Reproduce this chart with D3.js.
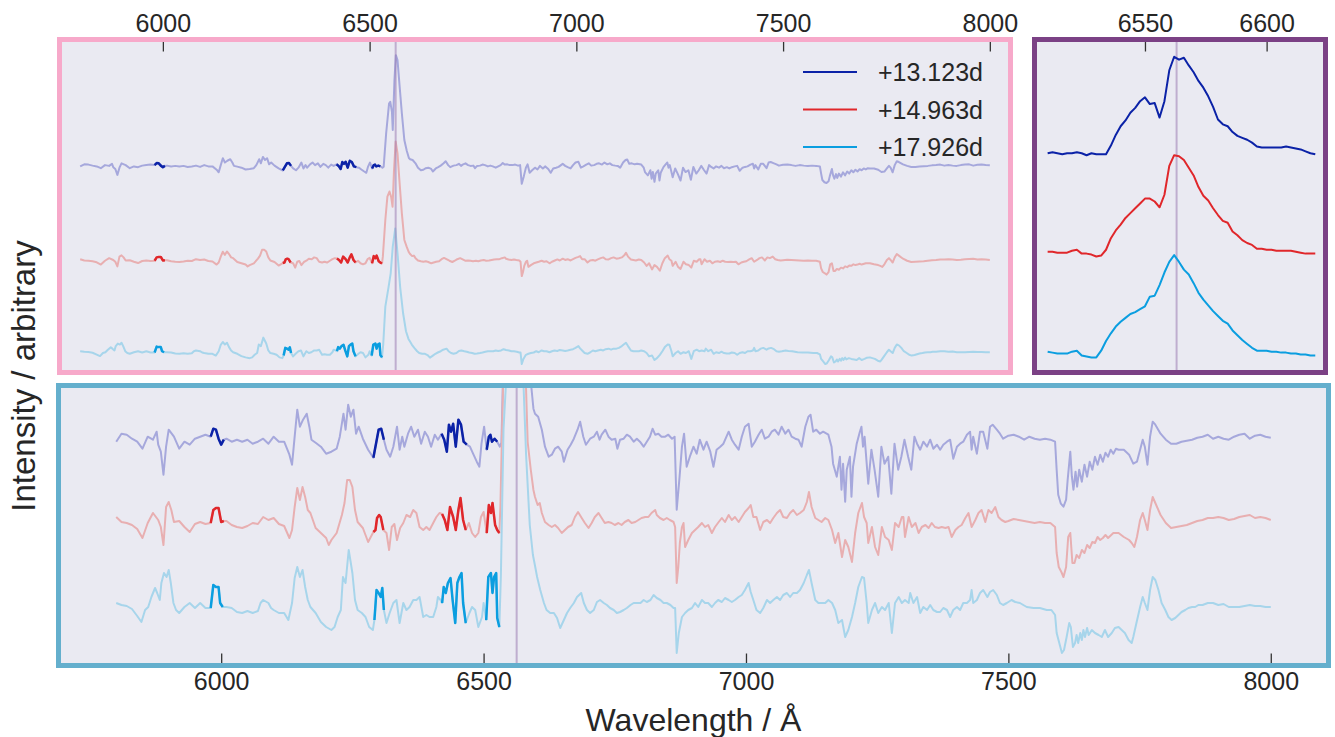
<!DOCTYPE html>
<html>
<head>
<meta charset="utf-8">
<script src="https://cdn.jsdelivr.net/npm/d3@7"></script>
<style>
	body { margin: 0; background: #fff; }
	svg { font-family: "Liberation Sans", Arial, sans-serif; display: block; }
</style>
</head>
<body>
<div id="wrapper"></div>
<script>
// epochs shown in the legend
const epochs = [ '+13.123d', '+14.963d', '+17.926d' ];
const lineColors = [ '#0b22a7', '#e0272b', '#0b9ee0' ];
const fadedColors = [ '#a6a8dc', '#e8afb1', '#a7d5eb' ];

// regions drawn in full colour on the wide panels
const highlightRanges = [ [ 5980, 6005 ], [ 6290, 6310 ], [ 6420, 6468 ], [ 6505, 6530 ] ];
const hAlpha = 6563;
const mainTicks = [ 6000, 6500, 7000, 7500, 8000 ];
const insetTicks = [ 6550, 6600 ];

// [wavelength, flux] (flux relative to continuum)
const spec13 = [
	[5800,-0.5],[5810,0.3],[5820,0.2],[5830,-0.2],[5840,-0.5],[5850,-1.2],[5860,0],[5870,-0.3],[5877,0.5],[5880,-0.8],
	[5885,-1.5],[5890,-3.8],[5895,-1.0],[5900,0.7],[5910,0],[5920,-1.2],[5930,-0.5],[5940,-0.8],[5950,-0.2],[5960,0],
	[5970,0.2],[5980,0],[5985,0.8],[5990,0.7],[5995,-0.2],[6000,-0.8],[6005,-0.3],[6010,-0.2],[6020,-0.5],[6030,-0.3],
	[6040,-0.5],[6050,-0.3],[6060,-0.7],[6070,-0.5],[6080,-0.2],[6090,-0.7],[6100,0],[6110,-0.5],[6120,-0.5],[6130,-1.8],
	[6135,-2.8],[6140,0],[6145,2.7],[6150,1.0],[6156,1.7],[6163,2.3],[6168,1.0],[6172,-0.3],[6180,-0.6],[6190,-1.0],
	[6200,-1.7],[6210,-1.5],[6220,-1.2],[6226,0],[6233,2.3],[6237,0.7],[6242,3.2],[6247,2.0],[6252,2.7],[6257,0.3],
	[6262,1.0],[6270,-0.2],[6280,-1.3],[6290,-2.1],[6295,-0.7],[6300,0.7],[6305,0.8],[6310,-0.3],[6315,-1.3],[6322,-2.0],
	[6328,-1.0],[6335,1.0],[6340,-1.3],[6345,0],[6349,-1.0],[6356,0.3],[6362,1.0],[6368,0],[6375,0.7],[6381,-0.7],
	[6388,0.5],[6394,0],[6400,-1.0],[6407,0.2],[6413,-0.3],[6420,0.3],[6425,-0.3],[6430,-1.5],[6434,1.2],[6438,0.5],
	[6442,1.3],[6447,-1.0],[6452,1.7],[6457,1.2],[6462,-0.5],[6468,-0.8],[6474,-1.0],[6480,-1.7],[6487,-2.5],[6492,-3.0],
	[6496,-0.7],[6501,1.0],[6506,-1.3],[6510,0],[6513,0.2],[6516,-0.5],[6521,-0.2],[6526,-0.5],[6531,-1.0],[6534,-0.6],
	[6540,12.4],[6547,24],[6550,24.7],[6554,20.8],[6556,13.7],[6560,33],[6563.5,42.9],[6567.5,41],[6572,31.9],[6578,20.2],
	[6584,9.8],[6590,5.5],[6595,2.8],[6598,2.3],[6604,2.0],[6611,0.7],[6617,-1.0],[6624,-2.0],[6630,-1.8],[6636,-1.2],
	[6642,-1.0],[6649,-1.5],[6653,-2.5],[6660,-1.3],[6666,-0.8],[6672,-0.2],[6679,0.7],[6684,1.5],[6690,0],[6695,-0.8],
	[6703,-0.2],[6710,0],[6716,0.5],[6721,-0.3],[6725,0.2],[6732,0.7],[6738,0],[6744,-0.3],[6751,-0.2],[6755,-1.2],
	[6760,-0.3],[6767,-0.2],[6773,0.2],[6779,0],[6786,-0.5],[6792,-0.2],[6798,-0.5],[6805,-1.0],[6811,-0.5],[6817,0],
	[6822,0.8],[6827,0.2],[6833,0.3],[6839,0],[6846,0],[6852,0.2],[6859,-0.2],[6864,0],[6868,-7.3],[6873,-4.3],
	[6878,-1.0],[6882,0.3],[6887,-3.0],[6893,-2.0],[6900,-1.0],[6906,-1.7],[6912,-0.3],[6919,-1.3],[6925,-0.5],[6932,-1.5],
	[6938,-3.0],[6944,-1.3],[6951,-1.0],[6957,-0.7],[6967,0.5],[6973,-0.3],[6979,-0.8],[6986,-1.3],[6992,0],[6998,1.0],
	[7005,1.3],[7011,-1.0],[7017,-0.5],[7024,0.2],[7030,0.7],[7036,-0.2],[7043,0],[7049,0.5],[7055,0.7],[7062,0.2],
	[7068,1.0],[7075,0.3],[7081,0.7],[7087,0],[7094,-0.2],[7100,-0.3],[7106,-1.0],[7113,1.0],[7119,2.0],[7123,2.2],
	[7128,0.5],[7134,0.7],[7141,0.3],[7147,0.5],[7157,0.2],[7163,-1.0],[7166,-2.7],[7173,-4.0],[7179,-2.0],[7182,-5.3],
	[7185,-2.7],[7189,-6.5],[7192,-3.3],[7198,-2.0],[7201,-6.0],[7204,-3.0],[7211,-0.7],[7217,0.5],[7220,1.0],[7223,-1.0],
	[7226,0],[7233,-4.7],[7239,-1.3],[7245,-3.3],[7252,-6.0],[7258,-1.0],[7264,-2.7],[7271,-2.0],[7277,-5.7],[7283,-0.7],
	[7290,-3.3],[7296,-2.0],[7302,-0.3],[7309,-2.0],[7315,-3.3],[7321,0],[7326,-0.7],[7332,-1.3],[7338,-0.5],[7345,-1.0],
	[7351,-0.3],[7357,-1.2],[7364,-0.8],[7370,-1.3],[7376,-0.8],[7383,-0.5],[7389,-0.3],[7395,-2.2],[7402,-1.0],[7408,-0.7],
	[7414,-0.5],[7421,0.2],[7427,0.5],[7430,-1.3],[7433,0],[7440,-1.7],[7446,0.5],[7452,0.5],[7460,-1.2],[7465,1.0],
	[7470,1.2],[7478,0.7],[7484,0.3],[7490,-0.2],[7500,0.1],[7510,0.2],[7520,0],[7530,-0.3],[7540,0],[7550,-0.2],
	[7560,-0.3],[7570,-0.2],[7580,-0.3],[7589,-0.5],[7592,-3.3],[7595,-5.8],[7600,-6.7],[7605,-7.0],[7610,-6.3],[7613,-4.3],
	[7618,-1.5],[7621,-4.0],[7624,-5.3],[7628,-3.5],[7631,-5.0],[7635,-3.3],[7640,-4.5],[7645,-2.8],[7650,-4.0],[7655,-2.5],
	[7660,-3.3],[7665,-2.0],[7670,-2.8],[7675,-1.8],[7680,-2.5],[7685,-1.6],[7690,-2.0],[7695,-1.3],[7700,-1.7],[7705,-1.2],
	[7710,-1.3],[7720,-1.3],[7730,-1.8],[7738,-2.7],[7745,-2.5],[7751,-1.3],[7756,-0.3],[7760,-1.0],[7765,-2.8],[7770,0],
	[7775,1.5],[7780,1.2],[7790,0.3],[7800,-0.3],[7810,-0.7],[7820,-0.7],[7830,-0.5],[7840,-0.4],[7850,-0.3],[7860,-0.1],
	[7870,0],[7880,0.2],[7890,-0.2],[7900,0],[7910,-0.2],[7920,-0.3],[7930,0],[7940,0.2],[7950,0.3],[7960,-0.2],
	[7970,0.1],[7980,0.2],[7990,0],[8000,-0.1]
];

const spec14 = [
	[5800,0.3],[5810,-0.2],[5820,-0.3],[5830,-0.5],[5840,-0.9],[5850,-1.8],[5860,-0.3],[5870,0.7],[5880,0],[5885,-0.7],
	[5890,-2.5],[5895,1.3],[5900,1.8],[5905,1.0],[5910,-0.2],[5920,-0.1],[5930,-0.7],[5940,-1.2],[5950,-0.4],[5960,-0.2],
	[5970,-0.4],[5980,-0.3],[5985,1.0],[5990,1.2],[5995,1.2],[6000,-0.2],[6005,-0.1],[6010,-0.1],[6020,-0.5],[6030,-0.7],
	[6040,-0.8],[6050,-0.6],[6060,-0.3],[6070,-0.4],[6080,0.3],[6090,0],[6100,0.2],[6110,-0.4],[6120,-0.6],[6130,-1.8],
	[6135,-1.0],[6140,1.3],[6145,3.2],[6150,2.0],[6155,3.3],[6160,2.3],[6165,1.0],[6170,0.7],[6180,-0.8],[6190,-1.3],
	[6200,-1.8],[6205,-2.5],[6210,-2.0],[6220,-1.3],[6230,0.5],[6235,1.7],[6240,4.0],[6245,4.0],[6250,3.3],[6255,1.0],
	[6260,-0.2],[6270,-0.8],[6280,-2.2],[6290,-1.2],[6294,-1.0],[6297,0.2],[6301,0.5],[6304,0.3],[6309,-1.0],[6315,-1.3],
	[6320,-3.0],[6325,-0.7],[6330,-0.4],[6335,-2.0],[6341,-0.8],[6347,-0.3],[6353,0.5],[6360,0.3],[6366,1.0],[6372,0.7],
	[6378,-0.7],[6385,-1.0],[6391,-0.7],[6397,-1.0],[6404,-0.3],[6410,0.3],[6416,0.7],[6421,0.6],[6426,0],[6431,-1.0],
	[6436,1.3],[6442,0.3],[6447,-1.0],[6452,1.0],[6456,2.2],[6461,0],[6466,-1.0],[6472,-0.3],[6478,-1.3],[6484,-1.7],
	[6490,-1.3],[6495,0.3],[6500,0.8],[6506,-1.3],[6510,1.5],[6514,0.7],[6517,1.7],[6522,-0.5],[6526,-1.0],[6530,-1.3],
	[6532,1.3],[6538,15.6],[6543,24.7],[6548,26.7],[6552,24.7],[6555.5,20.8],[6559,35],[6563,46.2],[6567.5,41.6],[6572,31.2],
	[6578,18.2],[6584,7.8],[6590,5.0],[6595,3.0],[6598,2.3],[6603,1.5],[6607,1.7],[6611,0.7],[6617,-0.2],[6624,-0.5],
	[6630,-0.7],[6636,-0.5],[6642,-0.8],[6649,-1.3],[6655,-1.0],[6661,-0.7],[6668,-0.5],[6674,0.3],[6680,0.8],[6687,0.2],
	[6693,-0.3],[6700,-0.8],[6706,-0.3],[6712,0.3],[6719,0.7],[6725,0.2],[6731,-0.3],[6738,-0.2],[6744,-0.3],[6750,-0.5],
	[6757,-0.3],[6763,-0.5],[6769,-0.2],[6776,0],[6782,-0.3],[6789,-0.2],[6795,0],[6801,0.2],[6808,0.3],[6814,0.3],
	[6820,0.7],[6827,1.0],[6830,0.5],[6836,0.2],[6843,0],[6849,0.2],[6855,0],[6862,-0.2],[6865,-0.7],[6868,-6.3],
	[6871,-4.7],[6874,-2.3],[6878,-0.7],[6881,-0.3],[6884,-2.7],[6890,-2.0],[6897,-1.3],[6903,-1.0],[6909,-0.7],[6916,-0.3],
	[6922,-0.7],[6928,-0.5],[6935,-1.3],[6941,-0.7],[6948,-0.2],[6954,0.2],[6960,-0.2],[6967,0.5],[6973,0],[6979,0.3],
	[6986,-0.2],[6992,0.3],[6998,0.8],[7005,1.2],[7009,1.5],[7014,0.3],[7020,0.3],[7027,-1.0],[7033,-0.2],[7040,0],
	[7046,-0.3],[7052,0.2],[7059,0.7],[7065,1.0],[7071,0.3],[7078,0.2],[7084,0.7],[7090,1.0],[7097,0.5],[7103,0.7],
	[7110,1.0],[7116,1.8],[7120,2.8],[7125,1.3],[7132,0.2],[7138,0],[7144,-0.2],[7151,0.2],[7157,0],[7164,-1.0],
	[7170,-2.3],[7176,-1.3],[7183,-3.7],[7189,-2.0],[7195,-2.7],[7202,-4.2],[7208,-1.3],[7214,0.7],[7221,1.7],[7225,0.3],
	[7230,-0.3],[7233,-2.3],[7240,-0.7],[7246,-2.7],[7252,-3.5],[7259,-0.7],[7265,-1.7],[7272,-2.0],[7278,-3.0],[7284,-0.3],
	[7291,-0.7],[7297,0.3],[7300,0.3],[7303,-1.7],[7310,0.3],[7316,-0.7],[7323,-0.3],[7329,-1.3],[7335,-0.7],[7342,-0.5],
	[7348,-0.8],[7354,-0.3],[7360,-0.7],[7367,-0.8],[7373,-0.7],[7380,-0.8],[7386,-0.7],[7392,-1.7],[7399,-1.0],[7405,-0.7],
	[7411,-0.5],[7418,0.2],[7424,0.7],[7430,-0.7],[7437,0],[7443,0.7],[7449,1.0],[7456,-0.2],[7462,1.0],[7468,0.7],
	[7475,1.3],[7481,0.3],[7487,0],[7494,-0.2],[7500,-0.1],[7510,0.1],[7520,0],[7530,-0.1],[7540,-0.2],[7550,-0.3],
	[7560,-0.2],[7570,-0.3],[7580,-0.3],[7589,-0.7],[7592,-3.3],[7596,-4.7],[7601,-5.2],[7605,-5.7],[7610,-4.7],[7614,-1.7],
	[7618,-1.3],[7622,-4.3],[7626,-4.3],[7630,-3.5],[7635,-3.8],[7640,-3.0],[7645,-3.3],[7650,-2.5],[7655,-2.8],[7660,-2.2],
	[7665,-2.3],[7670,-1.7],[7675,-2.0],[7680,-1.8],[7685,-1.5],[7690,-1.8],[7700,-1.3],[7710,-1.3],[7720,-1.7],[7730,-2.0],
	[7735,-2.3],[7740,-2.7],[7745,-1.7],[7751,0],[7756,0.7],[7760,0],[7765,-1.0],[7770,1.0],[7775,2.3],[7780,1.7],
	[7790,0.5],[7800,-0.3],[7810,-0.8],[7820,-0.7],[7830,-0.6],[7840,-0.5],[7850,-0.3],[7860,-0.1],[7870,0],[7880,0.2],
	[7890,0.2],[7900,0.3],[7910,0.2],[7920,0],[7930,0.1],[7940,0.3],[7950,0.4],[7960,0.5],[7970,0.2],[7980,0.3],
	[7990,0.2],[8000,0]
];

const spec17 = [
	[5800,0.2],[5810,0],[5820,-0.1],[5830,-0.4],[5840,-1.1],[5848,-1.7],[5855,-0.5],[5861,-0.2],[5867,0.8],[5874,1.7],
	[5878,1.2],[5883,0.5],[5886,2.2],[5891,3.2],[5896,2.8],[5900,3.5],[5904,2.2],[5909,0.2],[5914,-0.5],[5920,-0.8],
	[5930,-0.2],[5940,0.2],[5950,-0.3],[5960,0.2],[5970,-0.3],[5980,-0.3],[5985,2.0],[5990,1.8],[5995,1.8],[5998,0.2],
	[6003,-0.2],[6010,-0.2],[6020,-0.3],[6030,-0.7],[6040,-0.8],[6050,-0.6],[6060,-0.8],[6070,-0.6],[6075,0.2],[6080,0.5],
	[6090,0.2],[6095,-0.3],[6100,-0.5],[6110,-0.8],[6120,-0.8],[6128,-1.5],[6135,0.2],[6140,2.7],[6145,3.8],[6150,2.8],
	[6155,3.5],[6160,1.8],[6165,0.5],[6170,-0.2],[6180,-0.8],[6190,-1.7],[6200,-2.2],[6210,-2.5],[6216,-2.2],[6222,-1.2],
	[6228,-0.5],[6232,2.8],[6237,2.2],[6243,5.5],[6247,4.2],[6250,3.2],[6255,0.5],[6260,-0.5],[6268,-0.8],[6275,-1.2],
	[6282,-2.2],[6289,-2.5],[6292,-1.5],[6296,1.5],[6300,1.2],[6304,0.8],[6307,1.7],[6310,-0.5],[6315,-1.8],[6321,-0.8],
	[6328,0.2],[6334,0.5],[6340,-1.8],[6347,0.2],[6353,-0.5],[6359,-0.2],[6366,0.5],[6372,0.5],[6378,0.8],[6385,-1.2],
	[6391,-1.0],[6397,-1.2],[6404,-1.2],[6410,-0.2],[6413,0.8],[6418,0.5],[6421,0.2],[6424,1.8],[6428,1.2],[6432,2.2],
	[6437,2.7],[6441,0.5],[6446,-1.8],[6450,2.2],[6454,2.8],[6458,3.2],[6461,0.2],[6466,-1.8],[6473,-0.8],[6478,-0.2],
	[6484,-0.5],[6490,-2.2],[6497,-1.2],[6500,0.2],[6505,-1.5],[6509,2.8],[6514,3.2],[6517,1.2],[6520,2.8],[6524,3.2],
	[6526,-1.3],[6530,-2.2],[6533,3.0],[6538,17.6],[6546,25.4],[6551,30.6],[6556,41],[6562,48.1],[6567.5,38.4],[6574,25.0],
	[6581,15.0],[6588,8.0],[6594,5.0],[6597,4.2],[6602,2.8],[6608,1.5],[6615,0.2],[6620,-0.5],[6627,-0.8],[6634,-0.8],
	[6640,-1.3],[6646,-2.3],[6653,-1.5],[6659,-0.8],[6665,-0.3],[6672,0.2],[6678,0.8],[6686,1.2],[6691,0.2],[6697,-0.5],
	[6703,-0.8],[6710,-0.5],[6716,0.3],[6722,0.5],[6729,0.2],[6735,0],[6741,-0.3],[6748,-0.5],[6754,-0.8],[6760,-0.7],
	[6767,-0.5],[6773,-0.3],[6780,0],[6786,0.2],[6792,0.2],[6799,0.2],[6805,0.5],[6811,0.3],[6818,0.5],[6824,1.0],
	[6830,0.7],[6837,0.5],[6843,0.2],[6849,0.2],[6856,0],[6862,-0.3],[6865,-0.3],[6868,-4.8],[6872,-2.8],[6878,-1.2],
	[6884,-0.8],[6890,-0.5],[6897,-0.3],[6903,0.2],[6909,-0.2],[6916,0.5],[6922,0.2],[6928,0.2],[6935,-0.2],[6941,0.2],
	[6947,0.5],[6954,0.3],[6960,0.7],[6967,0.5],[6973,0.3],[6979,0.5],[6986,0.8],[6992,1.0],[6998,1.5],[7005,2.2],
	[7009,1.3],[7014,0.5],[7020,-0.5],[7027,-0.8],[7033,-0.3],[7040,0.5],[7046,0.2],[7052,0.5],[7059,0.8],[7065,0.5],
	[7071,1.0],[7078,1.2],[7084,0.8],[7090,1.2],[7097,1.2],[7103,1.5],[7110,2.2],[7116,3.0],[7120,3.5],[7125,2.2],
	[7132,0.5],[7138,0.2],[7144,0.2],[7151,0.2],[7157,0.5],[7164,0.2],[7170,-0.5],[7176,-1.8],[7183,-1.5],[7189,-3.2],
	[7195,-2.5],[7202,-1.2],[7208,0.2],[7214,1.8],[7221,2.8],[7225,2.7],[7230,0.2],[7233,-1.8],[7240,-0.5],[7246,0.2],
	[7252,-0.8],[7259,-0.2],[7265,-0.5],[7272,0.2],[7278,-2.8],[7284,0.2],[7291,0.8],[7297,0.2],[7303,0.5],[7310,0.2],
	[7313,1.2],[7319,0.2],[7326,0.8],[7332,-0.8],[7338,-0.2],[7345,-0.5],[7351,0],[7357,-0.5],[7364,-0.7],[7370,-0.7],
	[7376,-0.3],[7383,-0.5],[7389,-1.2],[7395,-0.5],[7402,-0.2],[7408,-0.5],[7414,0.2],[7421,0.2],[7427,0.5],[7430,1.5],
	[7433,0.2],[7440,0.5],[7446,1.2],[7452,1.5],[7460,0.8],[7465,1.3],[7471,1.5],[7478,1.0],[7484,0.2],[7490,0],
	[7497,0.2],[7506,0.5],[7513,0.3],[7522,0.2],[7535,-0.2],[7548,-0.3],[7560,-0.3],[7573,-0.5],[7582,-0.5],[7589,-1.0],
	[7592,-2.8],[7597,-3.8],[7602,-4.8],[7606,-4.5],[7611,-3.2],[7616,-1.8],[7619,-2.2],[7623,-4.2],[7627,-3.8],[7630,-3.0],
	[7633,-3.8],[7637,-2.8],[7640,-3.5],[7643,-2.5],[7646,-3.2],[7650,-2.3],[7653,-3.0],[7659,-2.5],[7665,-2.8],[7672,-3.0],
	[7678,-3.2],[7684,-2.5],[7690,-3.2],[7697,-2.8],[7703,-2.3],[7710,-2.2],[7716,-2.5],[7722,-2.8],[7729,-3.5],[7735,-3.8],
	[7738,-3.2],[7744,-1.8],[7751,-0.2],[7756,0.8],[7760,0.2],[7765,-0.5],[7770,1.5],[7775,2.8],[7780,2.5],[7786,1.5],
	[7792,0.2],[7799,-0.5],[7805,-1.2],[7811,-1.5],[7818,-1.3],[7824,-1.0],[7830,-0.7],[7837,-0.5],[7843,-0.3],[7850,-0.2],
	[7856,-0.2],[7862,0],[7870,0],[7880,0.2],[7890,0.2],[7900,0],[7910,0.1],[7920,-0.2],[7930,-0.2],[7940,-0.2],
	[7950,-0.1],[7960,0],[7970,-0.1],[7980,-0.1],[7990,-0.2],[8000,-0.2]
];

// H-alpha close-up, each profile normalised to its own peak
const insetWave = [
	6510, 6512, 6514, 6516, 6518, 6520, 6522, 6524, 6526, 6528, 6530, 6532, 6534, 6536, 6538, 6540, 6542, 6544, 6546, 6548,
	6550, 6552, 6554, 6556, 6558, 6560, 6562, 6564, 6566, 6568, 6570, 6572, 6574, 6576, 6578, 6580, 6582, 6584, 6586, 6588,
	6590, 6592, 6594, 6596, 6598, 6600, 6602, 6604, 6606, 6608, 6610, 6612, 6614, 6616, 6618, 6620
];
const inset13 = [
	0, 0.01, 0, -0.01, 0, 0, 0.01, 0, -0.02, 0, -0.01, -0.01, -0.01, 0.08, 0.19, 0.28, 0.34, 0.42, 0.47, 0.54,
	0.58, 0.51, 0.52, 0.37, 0.54, 0.86, 1.0, 0.97, 0.99, 0.91, 0.84, 0.75, 0.68, 0.59, 0.48, 0.35, 0.3, 0.28, 0.22, 0.18,
	0.16, 0.14, 0.11, 0.07, 0.06, 0.06, 0.06, 0.06, 0.06, 0.07, 0.06, 0.05, 0.04, 0.02, 0, -0.01
];
const inset14 = [
	0, 0, -0.01, -0.01, -0.01, 0.01, 0.02, -0.02, -0.02, -0.03, -0.05, -0.04, 0.02, 0.14, 0.22, 0.28, 0.35, 0.4, 0.45, 0.5,
	0.55, 0.55, 0.52, 0.46, 0.59, 0.89, 1.0, 0.99, 0.95, 0.87, 0.79, 0.67, 0.58, 0.53, 0.45, 0.38, 0.32, 0.3, 0.21, 0.17,
	0.12, 0.09, 0.07, 0.03, 0.03, 0.02, 0.02, 0.01, 0.01, 0.01, 0.01, 0, -0.01, -0.02, -0.02, -0.02
];
const inset17 = [
	0, -0.01, -0.02, -0.02, -0.02, 0, 0.01, -0.04, -0.05, -0.06, -0.06, 0.01, 0.11, 0.19, 0.26, 0.31, 0.35, 0.39, 0.41, 0.44,
	0.47, 0.57, 0.58, 0.69, 0.82, 0.93, 1.0, 0.93, 0.85, 0.8, 0.71, 0.61, 0.54, 0.48, 0.42, 0.37, 0.32, 0.29, 0.22, 0.17,
	0.12, 0.08, 0.04, 0.01, 0.01, 0.01, 0, 0, -0.01, -0.01, -0.02, -0.02, -0.03, -0.03, -0.04, -0.04
];

const spectra = [ spec13, spec14, spec17 ];
const insets = [ inset13, inset14, inset17 ];

const panels = {
	top: { x0: 59.5, x1: 1010.5, y0: 39.5, y1: 372.5, xlim: [ 5750, 8050 ], ylim: [ -8.1, 121.8 ], offsets: [ 72.8, 35.8, 0 ], border: '#f7a9ca' },
	inset: { x0: 1034.5, x1: 1325.5, y0: 39.5, y1: 372.5, xlim: [ 6504.6, 6624.2 ], ylim: [ -0.216, 3.235 ], offsets: [ 2.056, 1.036, 0 ], border: '#7b4185' },
	bottom: { x0: 58.5, x1: 1328.5, y0: 385.5, y1: 665.5, xlim: [ 5690, 8110 ], ylim: [ -6.05, 21.95 ], offsets: [ 16.83, 8.5, 0 ], border: '#64afcd' }
};

const svg = d3.select('#wrapper').append('svg').attr('width', 1335).attr('height', 737);
const defs = svg.append('defs');

function makePanel(name) {
	const p = panels[name];
	const x = d3.scaleLinear().domain(p.xlim).range([ p.x0, p.x1 ]);
	const y = d3.scaleLinear().domain(p.ylim).range([ p.y1, p.y0 ]);
	const g = svg.append('g').attr('class', 'panel-' + name);
	g.append('rect')
		.attr('x', p.x0).attr('y', p.y0)
		.attr('width', p.x1 - p.x0).attr('height', p.y1 - p.y0)
		.attr('fill', '#eaeaf2');
	defs.append('clipPath').attr('id', 'clip-' + name)
		.append('rect')
		.attr('x', p.x0).attr('y', p.y0)
		.attr('width', p.x1 - p.x0).attr('height', p.y1 - p.y0);
	const plot = g.append('g').attr('clip-path', `url(#clip-${name})`);
	return { p, x, y, g, plot };
}

function styleAxis(sel) {
	sel.attr('font-size', 25).attr('font-family', null);
	sel.select('.domain').remove();
	sel.selectAll('.tick line').attr('stroke', '#333').attr('stroke-width', 1.3);
	sel.selectAll('.tick text').attr('fill', '#262626');
}

function drawBorder(panel) {
	panel.g.append('rect')
		.attr('x', panel.p.x0).attr('y', panel.p.y0)
		.attr('width', panel.p.x1 - panel.p.x0).attr('height', panel.p.y1 - panel.p.y0)
		.attr('fill', 'none')
		.attr('stroke', panel.p.border)
		.attr('stroke-width', 5);
}

function drawHalpha(panel) {
	panel.plot.append('line')
		.attr('x1', panel.x(hAlpha)).attr('x2', panel.x(hAlpha))
		.attr('y1', panel.p.y0).attr('y2', panel.p.y1)
		.attr('stroke', '#9a7cb2')
		.attr('stroke-opacity', 0.55)
		.attr('stroke-width', 2);
}

// wide panels: whole spectrum faded, selected windows in full colour
function drawSpectra(panel) {
	spectra.forEach((spec, i) => {
		const off = panel.p.offsets[i];
		const line = d3.line().x((d) => panel.x(d[0])).y((d) => panel.y(d[1] + off));
		panel.plot.append('path')
			.datum(spec)
			.attr('d', line)
			.attr('fill', 'none')
			.attr('stroke', fadedColors[i])
			.attr('stroke-width', 2)
			.attr('stroke-linejoin', 'round');
		highlightRanges.forEach((r) => {
			const part = spec.filter((d) => d[0] >= r[0] && d[0] <= r[1]);
			panel.plot.append('path')
				.datum(part)
				.attr('d', line)
				.attr('fill', 'none')
				.attr('stroke', lineColors[i])
				.attr('stroke-width', 2.5)
				.attr('stroke-linejoin', 'round');
		});
	});
}

// top wide panel
const topPanel = makePanel('top');
drawSpectra(topPanel);
drawHalpha(topPanel);
topPanel.g.append('g')
	.attr('transform', `translate(0,${topPanel.p.y0})`)
	.call(d3.axisTop(topPanel.x).tickValues(mainTicks).tickSize(-12).tickPadding(8).tickFormat(d3.format('d')))
	.call(styleAxis);
drawBorder(topPanel);

// legend
const legend = topPanel.g.append('g');
epochs.forEach((e, i) => {
	const ly = 72 + i * 37.5;
	legend.append('line')
		.attr('x1', 803).attr('x2', 857)
		.attr('y1', ly).attr('y2', ly)
		.attr('stroke', lineColors[i])
		.attr('stroke-width', 2);
	legend.append('text')
		.attr('x', 878).attr('y', ly + 9)
		.attr('font-size', 25)
		.attr('fill', '#262626')
		.text(e);
});

// H-alpha inset
const insetPanel = makePanel('inset');
drawHalpha(insetPanel);
insets.forEach((vals, i) => {
	const off = insetPanel.p.offsets[i];
	const line = d3.line().x((d, j) => insetPanel.x(insetWave[j])).y((d) => insetPanel.y(d + off));
	insetPanel.plot.append('path')
		.datum(vals)
		.attr('d', line)
		.attr('fill', 'none')
		.attr('stroke', lineColors[i])
		.attr('stroke-width', 2)
		.attr('stroke-linejoin', 'round');
});
insetPanel.g.append('g')
	.attr('transform', `translate(0,${insetPanel.p.y0})`)
	.call(d3.axisTop(insetPanel.x).tickValues(insetTicks).tickSize(-12).tickPadding(8).tickFormat(d3.format('d')))
	.call(styleAxis);
drawBorder(insetPanel);

// bottom panel, stretched vertically
const bottomPanel = makePanel('bottom');
drawSpectra(bottomPanel);
drawHalpha(bottomPanel);
bottomPanel.g.append('g')
	.attr('transform', `translate(0,${bottomPanel.p.y1})`)
	.call(d3.axisBottom(bottomPanel.x).tickValues(mainTicks).tickSize(-12).tickPadding(7).tickFormat(d3.format('d')))
	.call(styleAxis);
drawBorder(bottomPanel);

svg.append('text')
	.attr('x', (bottomPanel.p.x0 + bottomPanel.p.x1) / 2)
	.attr('y', 731)
	.attr('text-anchor', 'middle')
	.attr('font-size', 32)
	.attr('fill', '#262626')
	.text('Wavelength / Å');

svg.append('text')
	.attr('transform', 'translate(35,376) rotate(-90)')
	.attr('text-anchor', 'middle')
	.attr('font-size', 33)
	.attr('fill', '#262626')
	.text('Intensity / arbitrary');
</script>
</body>
</html>
